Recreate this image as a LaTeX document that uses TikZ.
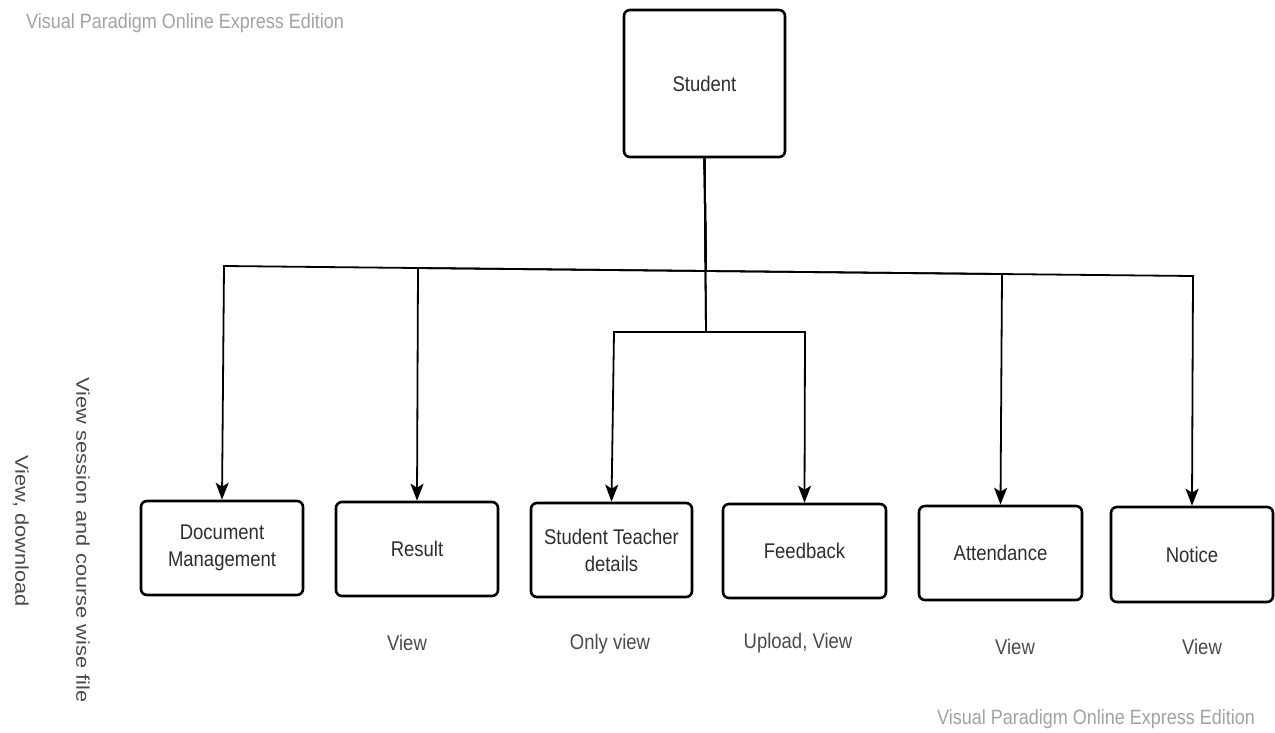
\documentclass[tikz,border=0pt]{standalone}
\usepackage{fontspec}
\usepackage{graphicx}
\setmainfont{Liberation Sans}
\usetikzlibrary{arrows.meta}
\definecolor{inktext}{HTML}{2E2E2E}
\definecolor{notetext}{HTML}{4A4A4A}
\definecolor{wmark}{HTML}{A2A2A2}
% slightly tall lettering for horizontal labels, long lettering for the side notes
\newcommand\tallt[1]{\scalebox{1}[1.15]{#1}}
\newcommand\longt[1]{\scalebox{1.18}[1]{#1}}
\begin{document}
\begin{tikzpicture}[x=1pt,y=-1pt,
  module/.style={draw=black, line width=2.6pt, rounded corners=6pt, fill=white,
    minimum width=162pt, minimum height=94pt, align=center, text=inktext,
    font=\fontsize{18.5}{27}\selectfont, inner sep=2pt},
  link/.style={line width=1.8pt, draw=black},
  arrowlink/.style={link, -{Stealth[length=17pt,width=13pt,inset=4pt]}},
  note/.style={text=notetext, font=\fontsize{18.5}{22}\selectfont},
  watermark/.style={text=wmark, font=\fontsize{18}{22}\selectfont}]
\useasboundingbox (0,0) rectangle (1275,733);

% root and modules
\node[module, minimum width=161pt, minimum height=147pt] (student) at (704.5,83.5) {\tallt{Student}};
\node[module] (dm) at (222,548) {\tallt{Document}\\\tallt{Management}};
\node[module] (result) at (417,549) {\tallt{Result}};
\node[module, minimum width=161pt] (std) at (611.5,550) {\tallt{Student Teacher}\\\tallt{details}};
\node[module, minimum width=163pt] (feedback) at (804.5,551) {\tallt{Feedback}};
\node[module, minimum width=163pt] (attendance) at (1000.5,553) {\tallt{Attendance}};
\node[module, minimum height=95pt] (notice) at (1192,554.5) {\tallt{Notice}};

% distribution bus
\coordinate (busC) at (706,271);
\coordinate (busDM) at (224,266);
\coordinate (busRes) at (418,268);
\coordinate (busAtt) at (1002,274);
\coordinate (busNot) at (1193,276);
\coordinate (subC) at (706,332);
\coordinate (subStd) at (614,332);
\coordinate (subFb) at (805,332);

\draw[arrowlink] (student.south) -- (busC) -- (busDM) -- (dm.north);
\draw[arrowlink] (student.south) -- (busC) -- (busRes) -- (result.north);
\draw[arrowlink] (student.south) -- (busC) -- (busAtt) -- (attendance.north);
\draw[arrowlink] (student.south) -- (busC) -- (busNot) -- (notice.north);
\draw[arrowlink] (student.south) -- (subC) -- (subStd) -- (std.north);
\draw[arrowlink] (student.south) -- (subC) -- (subFb) -- (feedback.north);

% access notes
\node[note] (nRes) at (407,643) {\tallt{View}};
\node[note] (nStd) at (610,644) {\tallt{Only view}};
\node[note] (nFb) at (798,643) {\tallt{Upload, View}};
\node[note] (nAtt) at (1015,647) {\tallt{View}};
\node[note] (nNot) at (1202,647) {\tallt{View}};
\node[note, rotate=-90] (nDM1) at (83,540) {\longt{View session and course wise file}};
\node[note, rotate=-90] (nDM2) at (21,531) {\longt{View, download}};

% watermarks
\node[watermark] (wm1) at (185,23) {\tallt{Visual Paradigm Online Express Edition}};
\node[watermark] (wm2) at (1096,719) {\tallt{Visual Paradigm Online Express Edition}};
\end{tikzpicture}
\end{document}
